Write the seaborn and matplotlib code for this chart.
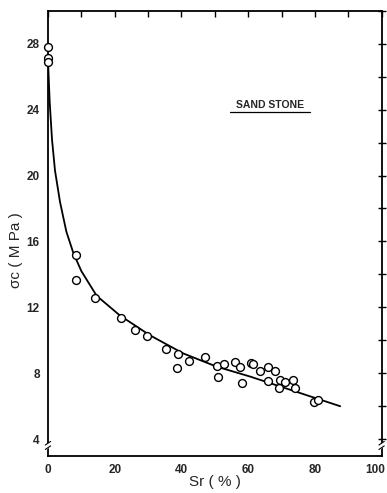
import matplotlib
matplotlib.use("Agg")
import matplotlib.pyplot as plt
import matplotlib.transforms as mtransforms
import seaborn as sns
import pandas as pd
from matplotlib.ticker import MultipleLocator

sns.set_theme(style="white")
plt.rcParams['font.family'] = ['Liberation Sans', 'DejaVu Sans']

# measured points
sr_pts = [0.0, 0.0, 0.0, 8.3, 8.5, 14.1, 21.9, 26.1, 29.7, 35.3, 38.9, 38.6, 42.2,
          47.1, 50.6, 50.9, 52.9, 56.2, 57.5, 58.1, 61.0, 61.5, 63.7, 66.1, 66.1,
          68.2, 69.6, 70.9, 69.3, 73.3, 74.0, 79.6, 81.0]
sc_pts = [27.8, 27.15, 26.9, 15.15, 13.65, 12.55, 11.35, 10.65, 10.25, 9.45, 9.15, 8.35, 8.75,
          9.0, 8.45, 7.8, 8.55, 8.7, 8.4, 7.4, 8.65, 8.55, 8.15, 8.4, 7.55,
          8.15, 7.6, 7.45, 7.1, 7.6, 7.1, 6.25, 6.4]

# fitted curve
sr_fit = [0.0, 0.5, 1.2, 2.1, 3.6, 5.5, 7.6, 10.0, 14.6, 21.6, 30.6, 40.6, 50.6, 60.6, 75.6, 87.6]
sc_fit = [27.0, 24.5, 22.2, 20.3, 18.4, 16.6, 15.3, 14.2, 12.7, 11.5, 10.3, 9.2, 8.4, 7.8, 6.8, 6.0]

x_ticks = [0, 20, 40, 60, 80, 100]
y_ticks = [4, 8, 12, 16, 20, 24, 28]

pts = pd.DataFrame({"Sr": sr_pts, "sc": sc_pts})
fit = pd.DataFrame({"Sr": sr_fit, "sc": sc_fit})

fig = plt.figure(figsize=(3.87, 4.93), dpi=100)
ax = fig.add_axes([0.124, 0.0757, 0.862, 0.9026])

sns.lineplot(data=fit, x="Sr", y="sc", ax=ax, color="black", lw=1.3,
             sort=False, estimator=None)
sns.scatterplot(data=pts, x="Sr", y="sc", ax=ax, marker="o", s=32,
                facecolor="white", edgecolor="black", linewidth=1.0, zorder=3,
                clip_on=False)

ax.set_xlim(0, 100)
ax.set_ylim(3, 30)
ax.set_xticks(x_ticks)
ax.set_yticks(y_ticks)
ax.xaxis.set_minor_locator(MultipleLocator(10))
ax.yaxis.set_minor_locator(MultipleLocator(2))
ax.tick_params(axis="both", which="both", top=True, right=True, color="black")
ax.tick_params(axis="x", which="major", direction="in", length=4, width=1, pad=6,
               labelsize=8.5)
ax.tick_params(axis="x", which="minor", direction="in", length=4, width=1)
ax.tick_params(axis="y", which="major", direction="inout", length=6, width=1, pad=3,
               labelsize=8.5)
ax.tick_params(axis="y", which="minor", direction="inout", length=6, width=1)
for lab in ax.get_xticklabels() + ax.get_yticklabels():
    lab.set_fontweight("bold")
last = ax.get_xticklabels()[-1]
last.set_transform(last.get_transform() +
                   mtransforms.ScaledTranslation(-6 / 100, 0, fig.dpi_scale_trans))

for s in ax.spines.values():
    s.set_color("black")
    s.set_linewidth(1.3)

ax.set_xlabel("Sr ( % )", fontsize=11, labelpad=-1)
ax.set_ylabel("σc ( M Pa )", fontsize=11)
ax.yaxis.set_label_coords(-0.075, 0.462)

ax.text(66.6, 24.25, "SAND STONE", fontsize=7.5, fontweight="bold", ha="center",
        va="center")
ax.plot([54.5, 78.5], [23.85, 23.85], color="black", lw=0.9)

# axis break marks
for xa in (0.0, 1.0):
    ax.plot([xa - 0.006, xa + 0.006], [0.018, 0.026], transform=ax.transAxes,
            color="white", lw=3, clip_on=False, zorder=4)
    ax.plot([xa - 0.008, xa + 0.008], [0.014, 0.022], transform=ax.transAxes,
            color="black", lw=0.8, clip_on=False, zorder=5)
    ax.plot([xa - 0.008, xa + 0.008], [0.024, 0.032], transform=ax.transAxes,
            color="black", lw=0.8, clip_on=False, zorder=5)

fig.savefig("out.png", dpi=100)
